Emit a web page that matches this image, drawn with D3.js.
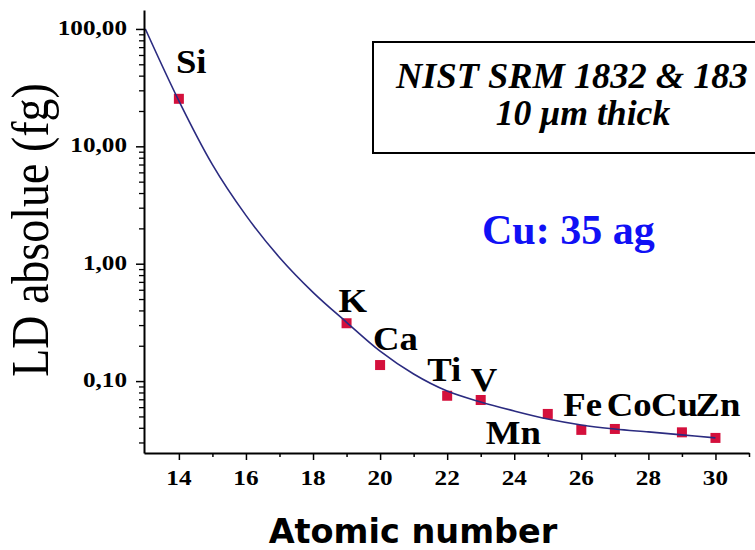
<!doctype html>
<html lang="en">
  <head>
    <meta charset="UTF-8" />
    <title>LD absolue vs Atomic number</title>
    <script src="https://d3js.org/d3.v7.min.js"></script>
    <style>
      body {
        margin: 0;
        background: #fff;
      }
      svg {
        display: block;
      }
      .serif {
        font-family: 'Liberation Serif', 'Times New Roman', serif;
      }
    </style>
  </head>
  <body>
    <svg width="755" height="550"></svg>
    <script>
      // measured points
      const elements = ['Si', 'K', 'Ca', 'Ti', 'V', 'Mn', 'Fe', 'Co', 'Cu', 'Zn'];
      const atomicNumbers = [14, 19, 20, 22, 23, 25, 26, 27, 29, 30];
      const ldValues = [25.4, 0.311, 0.137, 0.075, 0.069, 0.0525, 0.0384, 0.0391, 0.0366, 0.0328];

      // fitted curve
      const fitZ = [13, 14, 15, 16, 17, 18, 19, 20, 21, 22, 23, 24, 25, 26, 27, 28, 29, 30];
      const fitValues = [100, 24.4, 6.98, 2.58, 1.13, 0.57, 0.317, 0.18, 0.115, 0.0823,
        0.0664, 0.0556, 0.0475, 0.0423, 0.0391, 0.0369, 0.0348, 0.0328];

      const xMajorTicks = [14, 16, 18, 20, 22, 24, 26, 28, 30];
      const xMinorTicks = [15, 17, 19, 21, 23, 25, 27, 29, 31];
      const yMajorTicks = [0.1, 1, 10, 100];
      const yMinorTicks = [0.03, 0.04, 0.05, 0.06, 0.07, 0.08, 0.09,
        0.2, 0.3, 0.4, 0.5, 0.6, 0.7, 0.8, 0.9,
        2, 3, 4, 5, 6, 7, 8, 9,
        20, 30, 40, 50, 60, 70, 80, 90];

      // label offsets from each point (px)
      const labelOffsets = [[-3, -26], [-8, -11], [-7, -15], [-20, -15], [-10, -9],
        [-62, 30], [-18, -14], [-8, -13], [-31, -16], [-20, -22]];

      const svg = d3.select('svg');
      const plotLeft = 144, plotRight = 749, plotTop = 10, plotBottom = 453;

      const x = d3.scaleLinear().domain([12.96, 31.0]).range([plotLeft, plotRight]);
      const y = d3.scaleLog().domain([0.0244, 145]).range([plotBottom, plotTop]);

      // text that is a bit wider than the font (the source is stretched)
      function wideText(parent, px, py, str, sx) {
        return parent
          .append('text')
          .attr('class', 'serif')
          .attr('transform', `translate(${px},${py}) scale(${sx},1)`)
          .text(str);
      }

      // points
      svg
        .selectAll('.pt')
        .data(atomicNumbers)
        .enter()
        .append('rect')
        .attr('class', 'pt')
        .attr('x', (d) => x(d) - 5)
        .attr('y', (d, i) => y(ldValues[i]) - 5)
        .attr('width', 10)
        .attr('height', 10)
        .attr('fill', '#d4103c');

      // fit curve
      const line = d3
        .line()
        .x((d) => x(d))
        .y((d, i) => y(fitValues[i]))
        .curve(d3.curveMonotoneX);

      svg
        .append('path')
        .datum(fitZ)
        .attr('d', line)
        .attr('fill', 'none')
        .attr('stroke', '#2b2b80')
        .attr('stroke-width', 1.6);

      // x axis
      svg
        .append('g')
        .attr('transform', `translate(0,${plotBottom})`)
        .call(d3.axisBottom(x).tickValues(xMajorTicks).tickSize(7).tickSizeOuter(0).tickFormat(''))
        .call((g) => g.select('.domain').attr('stroke-width', 2));
      svg
        .append('g')
        .attr('transform', `translate(0,${plotBottom})`)
        .call(d3.axisBottom(x).tickValues(xMinorTicks).tickSize(4).tickSizeOuter(0).tickFormat(''))
        .call((g) => g.select('.domain').remove());
      svg.selectAll('.tick line').attr('stroke-width', 1.5);

      xMajorTicks.forEach((v) => {
        wideText(svg, x(v), plotBottom + 32, String(v), 1.2)
          .attr('text-anchor', 'middle')
          .style('font-size', '21px')
          .style('font-weight', 'bold');
      });

      // y axis
      svg
        .append('g')
        .attr('transform', `translate(${plotLeft},0)`)
        .call(d3.axisLeft(y).tickValues(yMajorTicks).tickSize(8).tickSizeOuter(0).tickFormat(''))
        .call((g) => g.select('.domain').attr('stroke-width', 2))
        .call((g) => g.selectAll('.tick line').attr('stroke-width', 1.5));
      svg
        .append('g')
        .attr('transform', `translate(${plotLeft},0)`)
        .call(d3.axisLeft(y).tickValues(yMinorTicks).tickSize(5).tickSizeOuter(0).tickFormat(''))
        .call((g) => g.select('.domain').remove())
        .call((g) => g.selectAll('.tick line').attr('stroke-width', 1.3));

      const fmt = (v) => d3.format('.2f')(v).replace('.', ',');
      yMajorTicks.forEach((v) => {
        wideText(svg, 127, y(v) + 6, fmt(v), 1.2)
          .attr('text-anchor', 'end')
          .style('font-size', '21px')
          .style('font-weight', 'bold');
      });

      // element labels
      elements.forEach((el, i) => {
        wideText(
          svg,
          x(atomicNumbers[i]) + labelOffsets[i][0],
          y(ldValues[i]) + labelOffsets[i][1],
          el,
          1.08,
        )
          .style('font-size', '34px')
          .style('font-weight', 'bold');
      });

      // axis titles
      svg
        .append('text')
        .attr('class', 'serif')
        .attr('transform', 'translate(48,230) scale(1.15,1) rotate(-90)')
        .attr('text-anchor', 'middle')
        .style('font-size', '46px')
        .text('LD absolue (fg)');

      svg
        .append('text')
        .attr('x', 413)
        .attr('y', 543)
        .attr('text-anchor', 'middle')
        .style('font-family', "'DejaVu Sans', Verdana, sans-serif")
        .style('font-size', '33.5px')
        .style('font-weight', 'bold')
        .text('Atomic number');

      // sample box (runs off the right edge, as in the source)
      svg
        .append('rect')
        .attr('x', 373)
        .attr('y', 42)
        .attr('width', 430)
        .attr('height', 111)
        .attr('fill', 'none')
        .attr('stroke', '#000')
        .attr('stroke-width', 2);

      wideText(svg, 396, 88, 'NIST SRM 1832 & 183', 1.04)
        .attr('text-anchor', 'start')
        .style('font-size', '35px')
        .style('font-weight', 'bold')
        .style('font-style', 'italic');
      wideText(svg, 583, 125, '10 \u03bcm thick', 1.02)
        .attr('text-anchor', 'middle')
        .style('font-size', '35px')
        .style('font-weight', 'bold')
        .style('font-style', 'italic');

      svg
        .append('text')
        .attr('class', 'serif')
        .attr('x', 482)
        .attr('y', 244)
        .attr('fill', '#1010f5')
        .style('font-size', '42px')
        .style('font-weight', 'bold')
        .text('Cu: 35 ag');
    </script>
  </body>
</html>
